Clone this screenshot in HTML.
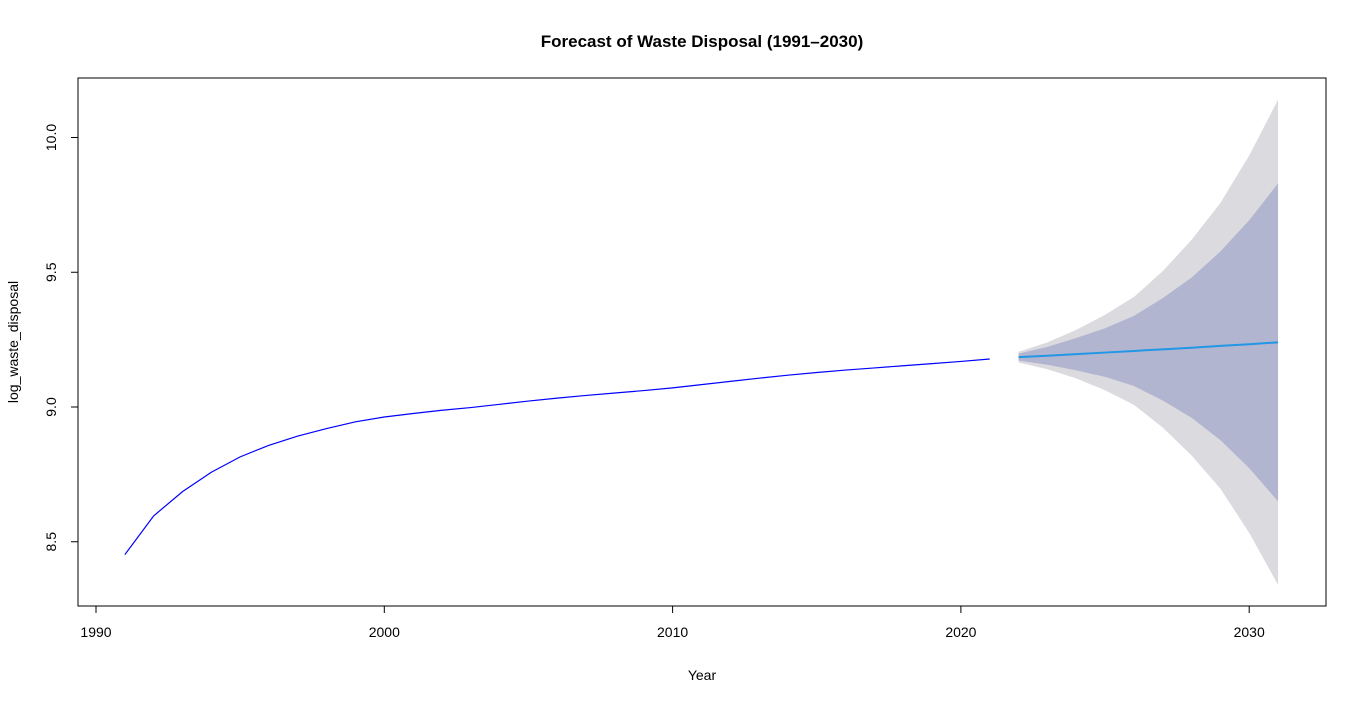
<!DOCTYPE html>
<html><head><meta charset="utf-8"><style>
body{margin:0;background:#fff;}
svg{display:block;font-family:"Liberation Sans",Arial,sans-serif;}
</style></head><body>
<svg id="chart" width="1366" height="705" viewBox="0 0 1366 705">
<rect width="1366" height="705" fill="#fff"/>
<text x="702" y="47" text-anchor="middle" font-size="17" font-weight="bold">Forecast of Waste Disposal (1991–2030)</text>
<g id="bands"></g>
<g id="lines"></g>
<rect x="78" y="78" width="1248" height="528" fill="none" stroke="#000" stroke-width="1"/>
<g id="axes"></g>
<text x="702" y="680" text-anchor="middle" font-size="14">Year</text>
<text transform="translate(18,342) rotate(-90)" text-anchor="middle" font-size="14">log_waste_disposal</text>
</svg>
<script>
const histYears=[1991,1992,1993,1994,1995,1996,1997,1998,1999,2000,2001,2002,2003,2004,2005,2006,2007,2008,2009,2010,2011,2012,2013,2014,2015,2016,2017,2018,2019,2020,2021];
const histValues=[8.452,8.596,8.686,8.758,8.815,8.858,8.892,8.92,8.945,8.963,8.976,8.988,8.998,9.01,9.022,9.033,9.043,9.052,9.061,9.071,9.083,9.095,9.107,9.118,9.128,9.137,9.145,9.153,9.161,9.169,9.178];
const fcYears=[2022,2023,2024,2025,2026,2027,2028,2029,2030,2031];
const fcMean=[9.185,9.19,9.196,9.202,9.208,9.214,9.22,9.227,9.233,9.24];
const fcLo80=[9.172,9.157,9.136,9.112,9.078,9.024,8.96,8.877,8.773,8.65];
const fcHi80=[9.198,9.223,9.256,9.292,9.338,9.404,9.48,9.577,9.693,9.83];
const fcLo95=[9.165,9.14,9.106,9.062,9.008,8.924,8.82,8.697,8.533,8.34];
const fcHi95=[9.205,9.24,9.286,9.342,9.408,9.504,9.62,9.757,9.933,10.14];
const xTicks=[1990,2000,2010,2020,2030];
const yTicks=[8.5,9.0,9.5,10.0];
const yTickLabels=["8.5","9.0","9.5","10.0"];
const NS="http://www.w3.org/2000/svg";
const X=v=>96+(v-1990)*28.83;
const Y=v=>407-(v-9)*269.5;
function mk(t,a,p){const e=document.createElementNS(NS,t);for(const k in a)e.setAttribute(k,a[k]);p.appendChild(e);return e;}
const bands=document.getElementById('bands'),lines=document.getElementById('lines'),axes=document.getElementById('axes');
function band(lo,hi,fill,name){
  let pts=fcYears.map((y,i)=>X(y)+','+Y(hi[i]));
  pts=pts.concat(fcYears.map((y,i)=>X(y)+','+Y(lo[i])).reverse());
  const e=mk('polygon',{points:pts.join(' '),fill:fill},bands);
  
  
}
band(fcLo95,fcHi95,'#dbdbdf','band-95');
band(fcLo80,fcHi80,'#b1b5d0','band-80');
const h=mk('polyline',{points:histYears.map((y,i)=>X(y)+','+Y(histValues[i])).join(' '),fill:'none',stroke:'#0000ff','stroke-width':1.2},lines);


const f=mk('polyline',{points:fcYears.map((y,i)=>X(y)+','+Y(fcMean[i])).join(' '),fill:'none',stroke:'#2297e6','stroke-width':2},lines);


mk('line',{x1:X(xTicks[0]),x2:X(xTicks[xTicks.length-1]),y1:606,y2:606,stroke:'#000'},axes);
xTicks.forEach(t=>{
  mk('line',{x1:X(t),x2:X(t),y1:606,y2:613,stroke:'#000'},axes);
  const tx=mk('text',{x:X(t),y:637,'text-anchor':'middle','font-size':14},axes);tx.textContent=t;
  
  
});
mk('line',{x1:78,x2:78,y1:Y(yTicks[0]),y2:Y(yTicks[yTicks.length-1]),stroke:'#000'},axes);
yTicks.forEach((t,i)=>{
  mk('line',{x1:71,x2:78,y1:Y(t),y2:Y(t),stroke:'#000'},axes);
  const tx=mk('text',{transform:`translate(56,${Y(t)}) rotate(-90)`,'text-anchor':'middle','font-size':14},axes);tx.textContent=yTickLabels[i];
  
  
});
</script>
</body></html>
